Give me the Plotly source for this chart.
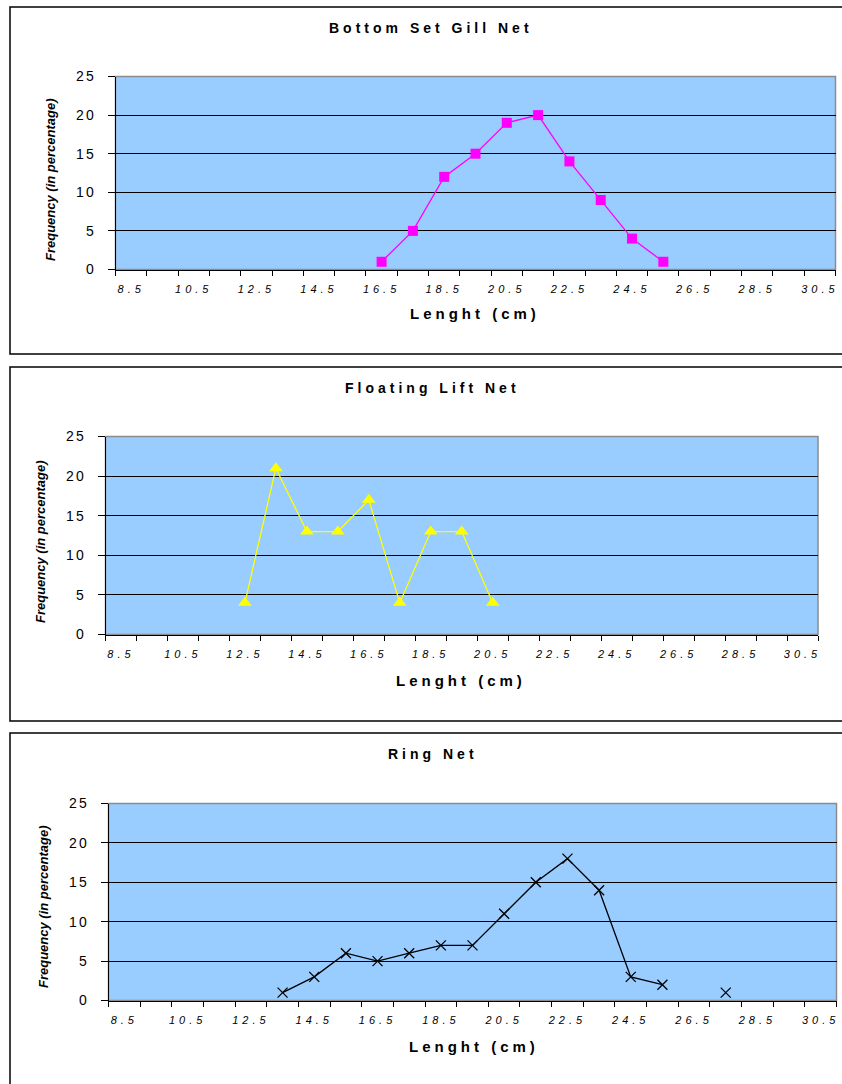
import plotly.graph_objects as go

# ---------------- data ----------------
categories = [8.5, 9.5, 10.5, 11.5, 12.5, 13.5, 14.5, 15.5, 16.5, 17.5, 18.5, 19.5,
              20.5, 21.5, 22.5, 23.5, 24.5, 25.5, 26.5, 27.5, 28.5, 29.5, 30.5]
tick_labels = ["8.5", "10.5", "12.5", "14.5", "16.5", "18.5", "20.5", "22.5",
               "24.5", "26.5", "28.5", "30.5"]
y_ticks = [0, 5, 10, 15, 20, 25]

gill_len = [16.5, 17.5, 18.5, 19.5, 20.5, 21.5, 22.5, 23.5, 24.5, 25.5]
gill_freq = [1, 5, 12, 15, 19, 20, 14, 9, 4, 1]

lift_len = [12.5, 13.5, 14.5, 15.5, 16.5, 17.5, 18.5, 19.5, 20.5]
lift_freq = [4, 21, 13, 13, 17, 4, 13, 13, 4]

ring_len = [13.5, 14.5, 15.5, 16.5, 17.5, 18.5, 19.5, 20.5, 21.5, 22.5, 23.5, 24.5, 25.5, 26.5, 27.5]
ring_freq = [1, 3, 6, 5, 6, 7, 7, 11, 15, 18, 14, 3, 2, None, 1]

titles = ["Bottom Set Gill Net", "Floating Lift Net", "Ring Net"]

# ---------------- layout helpers ----------------
W, H = 842, 1084
FONT = "Arial, Liberation Sans, sans-serif"


def px(x):
    return x / W


def py(y):
    return 1 - y / H


step = categories[1] - categories[0]
boundaries = [c - step / 2 for c in categories] + [categories[-1] + step / 2]

panels = [
    dict(l=115.5, r=835.5, t=76.5, b=269.5, bt=7, bb=354, tx=431, ty=28,
         xtx=475, xty=313, ytx=51, yty=180),
    dict(l=105.5, r=818, t=436.5, b=634.5, bt=367, bb=721, tx=432, ty=388,
         xtx=461, xty=680, ytx=40, yty=542),
    dict(l=108.5, r=836.5, t=803.5, b=1000.5, bt=733, bb=1100, tx=433, ty=754,
         xtx=474, xty=1046, ytx=43, yty=907),
]

series = [
    (gill_len, gill_freq, dict(color="#FF00FF", symbol="square", size=10,
                                line=dict(width=0)), "#FF00FF"),
    (lift_len, lift_freq, dict(color="#FFFF00", symbol="triangle-up", size=12,
                                line=dict(width=0)), "#FFFF00"),
    (ring_len, ring_freq, dict(color="black", symbol="x-thin", size=10,
                                line=dict(width=1.3, color="black")), "black"),
]

fig = go.Figure()
shapes = []
annotations = []

for i, (p, (xs, ys, marker, lc)) in enumerate(zip(panels, series)):
    n = "" if i == 0 else str(i + 1)
    xa = "xaxis" + n
    ya = "yaxis" + n
    fig.add_trace(go.Scatter(
        x=xs, y=ys, mode="lines+markers", xaxis="x" + n, yaxis="y" + n,
        line=dict(color=lc, width=1.3), marker=marker, connectgaps=False,
        showlegend=False, cliponaxis=False,
    ))
    fig.layout[xa] = dict(
        domain=[px(p["l"]), px(p["r"])], anchor="y" + n, automargin=False,
        range=[boundaries[0], boundaries[-1]],
        tickmode="array", tickvals=[float(t) for t in tick_labels], ticktext=tick_labels,
        ticks="", showgrid=False, zeroline=False,
        showline=True, linecolor="black", linewidth=1,
        tickfont=dict(family=FONT, size=11, color="black", style="italic"),
        ticklabelstandoff=9,
        minor=dict(tickmode="array", tickvals=boundaries, ticks="outside",
                   ticklen=5, tickcolor="black", tickwidth=1, showgrid=False),
        fixedrange=True,
    )
    fig.layout[ya] = dict(
        domain=[py(p["b"]), py(p["t"])], anchor="x" + n, automargin=False,
        range=[0, 25], tickmode="array", tickvals=y_ticks,
        ticks="outside", ticklen=7, tickcolor="black", tickwidth=1,
        showgrid=False, zeroline=False,
        showline=True, linecolor="black", linewidth=1,
        tickfont=dict(family=FONT, size=14, color="black"),
        ticklabelstandoff=9,
        minor=dict(tickmode="array", tickvals=y_ticks[1:-1], ticks="",
                   showgrid=True, gridcolor="black", gridwidth=1),
        fixedrange=True,
    )
    shapes.append(dict(type="rect", xref="x" + n + " domain", yref="y" + n + " domain",
                       x0=0, x1=1, y0=0, y1=1, line=dict(color="#8C8C8C", width=1.5),
                       layer="below"))
    shapes.append(dict(type="rect", xref="paper", yref="paper",
                       x0=px(10), x1=px(W + 10), y0=py(p["bb"]), y1=py(p["bt"]),
                       line=dict(color="black", width=1.5), layer="above"))
    annotations.append(dict(text="<b>" + titles[i] + "</b>", xref="paper", yref="paper",
                            x=px(p["tx"]), y=py(p["ty"]), showarrow=False,
                            xanchor="center", yanchor="middle",
                            font=dict(family=FONT, size=14, color="black")))
    annotations.append(dict(text="<b>Lenght (cm)</b>", xref="paper", yref="paper",
                            x=px(p["xtx"]), y=py(p["xty"]), showarrow=False,
                            xanchor="center", yanchor="middle",
                            font=dict(family=FONT, size=15, color="black")))
    annotations.append(dict(text="<b><i>Frequency (in percentage)</i></b>", xref="paper",
                            yref="paper", x=px(p["ytx"]), y=py(p["yty"]), showarrow=False,
                            textangle=-90, xanchor="center", yanchor="middle",
                            font=dict(family=FONT, size=13, color="black")))

fig.update_layout(
    width=W, height=H, margin=dict(l=0, r=0, t=0, b=0, pad=0, autoexpand=False),
    paper_bgcolor="white", plot_bgcolor="#99CCFF",
    shapes=shapes, annotations=annotations, showlegend=False,
)

# the reference text is set with wide letter spacing
post = (
    "var s=document.createElement('style');"
    "s.textContent='.xtick text,.x2tick text,.x3tick text{letter-spacing:4px}"
    ".ytick text,.y2tick text,.y3tick text{letter-spacing:2px}"
    ".annotation text{letter-spacing:4px}"
    ".annotation[data-index=\"2\"] text,.annotation[data-index=\"5\"] text,"
    ".annotation[data-index=\"8\"] text{letter-spacing:0px}';"
    "document.head.appendChild(s);"
)

fig.write_html("out.html", post_script=post)
